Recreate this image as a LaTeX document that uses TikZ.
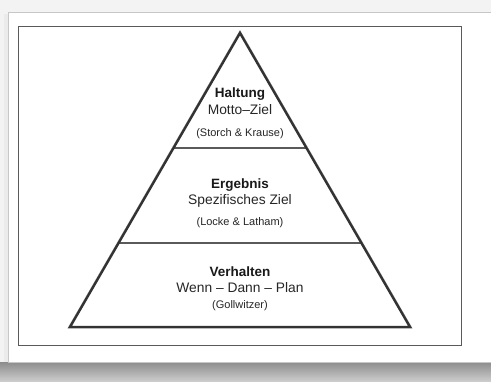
\documentclass[tikz,border=0pt]{standalone}
\usepackage{fontspec}
\setmainfont{Liberation Sans}
\usetikzlibrary{calc}
\pgfdeclarelayer{background}
\pgfdeclarelayer{foreground}
\pgfsetlayers{background,main,foreground}
\definecolor{pagegray}{HTML}{F3F3F3}
\definecolor{edgegray}{HTML}{333333}
\definecolor{framegray}{HTML}{5A5A5A}
\tikzset{
  titletext/.style={font=\fontsize{13.5}{16}\selectfont\bfseries, text=black!90},
  goaltext/.style={font=\fontsize{13.8}{16}\selectfont, text=black!85},
  sourcetext/.style={font=\fontsize{11}{13}\selectfont, text=black!85},
  pyredge/.style={draw=edgegray, line width=2.4pt, line join=miter},
  layeredge/.style={draw=framegray, line width=1.4pt}
}

\begin{document}
\begin{tikzpicture}[x=1pt,y=-1pt]
\useasboundingbox (0,0) rectangle (491,381);

\coordinate (Apex)  at (240,33);
\coordinate (BaseL) at (70,327);
\coordinate (BaseR) at (410,327);
\coordinate (UpL) at ($(Apex)!0.391!(BaseL)$);
\coordinate (UpR) at ($(Apex)!0.391!(BaseR)$);
\coordinate (LowL) at ($(Apex)!0.714!(BaseL)$);
\coordinate (LowR) at ($(Apex)!0.714!(BaseR)$);

\begin{pgfonlayer}{background}
  \fill[pagegray] (0,0) rectangle (491,381);
  % shadow under the sheet
  \shade[top color=black!45, bottom color=black!20] (0,362) rectangle (491,381);
  \fill[black!8] (4,14) rectangle (8,362);
  \fill[white] (8,12) rectangle (491,362);
  \draw[black!22, line width=0.6pt] (491,12) -- (8,12) -- (8,362) -- (491,362);
  \draw[framegray, line width=0.9pt] (18,26) rectangle (461,345);
\end{pgfonlayer}

% soft shadow of the pyramid
\foreach \s/\o in {4.5/8, 3.5/14, 2.5/22, 1.5/30}{
  \draw[black!\o, line width=2.8pt, line join=miter, shift={(\s,\s)}]
    (Apex) -- (BaseR) -- (BaseL) -- cycle;
  \draw[black!\o, line width=1.2pt, shift={(\s*0.6,\s*0.6)}] (UpL) -- (UpR);
  \draw[black!\o, line width=1.2pt, shift={(\s*0.6,\s*0.6)}] (LowL) -- (LowR);
}
\fill[white] (Apex) -- (BaseR) -- (BaseL) -- cycle;

\begin{pgfonlayer}{foreground}
  \draw[layeredge] (UpL) -- (UpR);
  \draw[layeredge] (LowL) -- (LowR);
  \draw[pyredge] (Apex) -- (BaseR) -- (BaseL) -- cycle;
\end{pgfonlayer}

\node[titletext]  (haltung)    at (240,94)  {Haltung};
\node[goaltext]   (mottoziel)  at (240,110) {Motto–Ziel};
\node[sourcetext] (storch)     at (240,134) {(Storch \& Krause)};

\node[titletext]  (ergebnis)   at (240,185) {Ergebnis};
\node[goaltext]   (spezziel)   at (240,201) {Spezifisches Ziel};
\node[sourcetext] (locke)      at (240,223) {(Locke \& Latham)};

\node[titletext]  (verhalten)  at (240,272) {Verhalten};
\node[goaltext]   (wenndann)   at (240,288) {Wenn – Dann – Plan};
\node[sourcetext] (gollwitzer) at (240,306) {(Gollwitzer)};
\end{tikzpicture}
\end{document}
